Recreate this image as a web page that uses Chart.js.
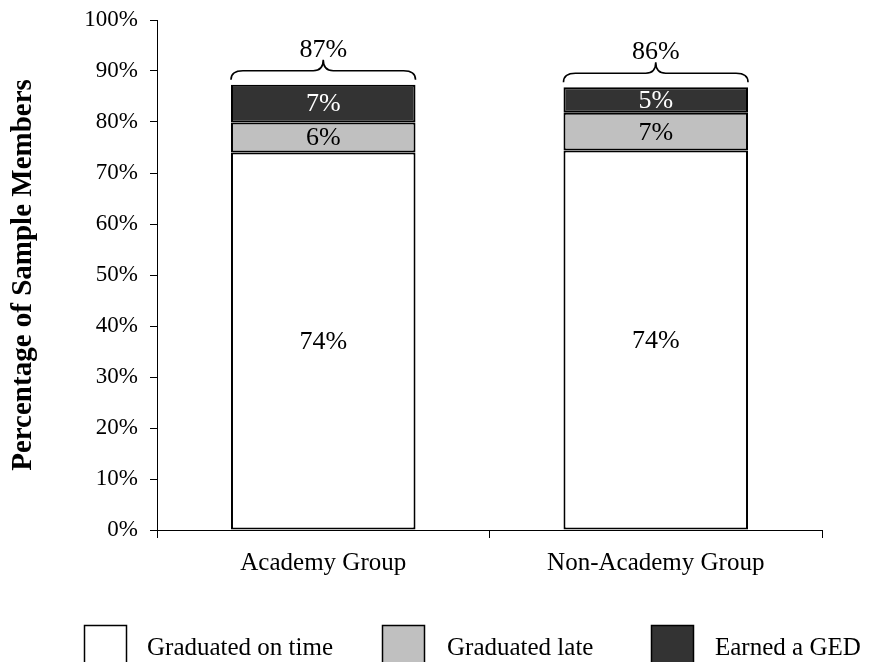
<!DOCTYPE html>
<html>
<head>
<meta charset="utf-8">
<script src="https://cdn.jsdelivr.net/npm/chart.js@4.4.1/dist/chart.umd.min.js"></script>
<style>
  html, body { margin: 0; padding: 0; background: #ffffff; }
  #wrap { width: 871px; height: 662px; }
</style>
</head>
<body>
<div id="wrap"><canvas id="c" width="871" height="662"></canvas></div>
<script>
// ---- data ----
const categories = ['Academy Group', 'Non-Academy Group'];
const seriesNames = ['Graduated on time', 'Graduated late', 'Earned a GED'];
const onTime = [74.0, 74.4];
const late = [5.9, 7.4];
const ged = [7.4, 5.0];
const totalLabels = ['87%', '86%'];
const yTicks = [0, 10, 20, 30, 40, 50, 60, 70, 80, 90, 100];

const colors = ['#ffffff', '#c0c0c0', '#333333'];
const labelColors = ['#000000', '#000000', '#ffffff'];
const SERIF = '"Liberation Serif", "Times New Roman", serif';

const segLabelPlugin = {
  id: 'segLabels',
  afterDatasetsDraw(chart) {
    const ctx = chart.ctx;
    ctx.save();
    ctx.font = '26px ' + SERIF;
    ctx.textAlign = 'center';
    ctx.textBaseline = 'middle';
    chart.data.datasets.forEach((ds, di) => {
      const meta = chart.getDatasetMeta(di);
      meta.data.forEach((el, i) => {
        const p = el.getProps(['x', 'y', 'base'], true);
        ctx.fillStyle = labelColors[di];
        ctx.fillText(Math.round(ds.data[i]) + '%', p.x, (p.y + p.base) / 2 + 1);
      });
    });
    // braces and totals
    const lastMeta = chart.getDatasetMeta(chart.data.datasets.length - 1);
    ctx.strokeStyle = '#000000';
    ctx.lineWidth = 1.6;
    lastMeta.data.forEach((el, i) => {
      const p = el.getProps(['x', 'y', 'width'], true);
      const l = p.x - p.width / 2, r = p.x + p.width / 2, c = p.x;
      const yb = p.y - 5, ym = p.y - 14, yt = p.y - 25;
      ctx.beginPath();
      ctx.moveTo(l, yb);
      ctx.quadraticCurveTo(l, ym, l + 12, ym);
      ctx.lineTo(c - 10, ym);
      ctx.quadraticCurveTo(c, ym, c, yt);
      ctx.quadraticCurveTo(c, ym, c + 10, ym);
      ctx.lineTo(r - 12, ym);
      ctx.quadraticCurveTo(r, ym, r, yb);
      ctx.stroke();
      ctx.fillStyle = '#000000';
      ctx.textBaseline = 'alphabetic';
      ctx.fillText(totalLabels[i], c, yt - 3);
    });
    ctx.restore();
  }
};

const legendPlugin = {
  id: 'customLegend',
  afterDraw(chart) {
    const ctx = chart.ctx;
    const boxX = [84, 382, 651];
    const textX = [147, 447, 715];
    ctx.save();
    ctx.font = '25px ' + SERIF;
    ctx.textAlign = 'left';
    ctx.textBaseline = 'alphabetic';
    chart.data.datasets.forEach((ds, i) => {
      ctx.fillStyle = ds.backgroundColor;
      ctx.fillRect(boxX[i], 625, 43, 40);
      ctx.strokeStyle = '#000000';
      ctx.lineWidth = 1.5;
      ctx.strokeRect(boxX[i] + 0.5, 625.5, 42, 40);
      ctx.fillStyle = '#000000';
      ctx.fillText(ds.label, textX[i], 655);
    });
    ctx.restore();
  }
};

new Chart(document.getElementById('c'), {
  type: 'bar',
  data: {
    labels: categories,
    datasets: [
      { label: seriesNames[0], data: onTime, backgroundColor: colors[0] },
      { label: seriesNames[1], data: late, backgroundColor: colors[1] },
      { label: seriesNames[2], data: ged, backgroundColor: colors[2] }
    ].map(d => Object.assign(d, {
      borderColor: '#000000', borderWidth: 2, borderSkipped: false,
      categoryPercentage: 1.0, barPercentage: 0.555
    }))
  },
  options: {
    responsive: false,
    animation: false,
    layout: { padding: { left: 0, top: 20, right: 49, bottom: 82 } },
    plugins: { legend: { display: false }, tooltip: { enabled: false } },
    scales: {
      x: {
        stacked: true,
        afterFit(scale) { scale.height = 50; scale.paddingLeft = 0; scale.paddingRight = 0; },
        grid: { offset: true, drawOnChartArea: false, drawTicks: true, tickLength: 8, color: '#000000' },
        border: { display: true, color: '#000000', width: 1 },
        ticks: { color: '#000000', font: { family: SERIF, size: 25 }, padding: 10 }
      },
      y: {
        stacked: true,
        min: 0, max: 100,
        afterFit(scale) { scale.width = 157; scale.paddingTop = 0; scale.paddingBottom = 0; },
        afterBuildTicks(scale) { scale.ticks = yTicks.map(v => ({ value: v })); },
        grid: { drawOnChartArea: false, drawTicks: true, tickLength: 7, color: '#000000' },
        border: { display: true, color: '#000000', width: 1 },
        ticks: { color: '#000000', font: { family: SERIF, size: 23 }, padding: 12,
                 callback: v => v + '%' },
        title: { display: true, text: 'Percentage of Sample Members', color: '#000000',
                 font: { family: SERIF, size: 29, weight: 'bold' }, padding: { top: 6, bottom: 0 } }
      }
    }
  },
  plugins: [segLabelPlugin, legendPlugin]
});
</script>
</body>
</html>
